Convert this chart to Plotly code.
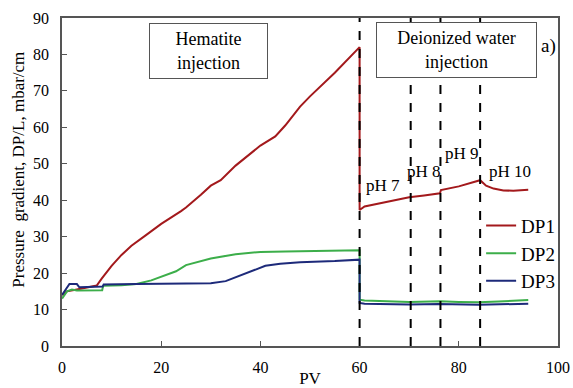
import plotly.graph_objects as go

# ---------------- data ----------------
pv_dp1 = [0, 1, 3, 5, 7, 8, 10, 12, 14, 17, 20, 24, 25, 28, 30, 32, 35, 40, 43, 45, 48, 50, 55, 60,
          60, 61, 64, 67, 70, 73, 76.2, 76.4, 80, 84.3, 85.5, 87, 89, 91, 94]
dp1 = [14, 15, 15.5, 16, 16.6, 18.5, 22, 25, 27.5, 30.5, 33.5, 37, 38, 41.5, 44, 45.5, 49.5, 55, 57.5, 60.5, 65.7, 68.5, 75, 82,
       37.3, 38.3, 39.1, 40, 40.8, 41.3, 41.9, 42.8, 43.8, 45.5, 44, 43.2, 42.7, 42.6, 42.9]

pv_dp2 = [0, 1, 2, 3, 8.1, 8.3, 12, 15, 18, 20, 23, 25, 27, 30, 35, 40, 45, 50, 60,
          60, 61, 70, 76.3, 80, 84, 88, 94]
dp2 = [13, 15, 15.5, 15.2, 15.3, 16.5, 16.7, 17, 18, 19, 20.5, 22.2, 23, 24, 25.2, 25.8, 25.9, 26, 26.3,
       12.7, 12.5, 12.1, 12.3, 12.1, 12.0, 12.2, 12.6]

pv_dp3 = [0, 1, 1.5, 3, 3.5, 8.2, 8.4, 15, 25, 30, 33, 35, 38, 41, 44, 48, 55, 60,
          60, 61, 70, 76, 84, 90, 94]
dp3 = [14, 16, 17, 17, 16.1, 16.3, 16.9, 17, 17, 17.2, 17.8, 18.8, 20.5, 22, 22.6, 23, 23.3, 23.7,
       11.8, 11.6, 11.4, 11.5, 11.3, 11.4, 11.6]

series_names = ["DP1", "DP2", "DP3"]
series_colors = ["#a3191c", "#3cae4a", "#1d2a7a"]

x_ticks = [0, 20, 40, 60, 80, 100]
y_ticks = [0, 10, 20, 30, 40, 50, 60, 70, 80, 90]

boundaries = [60, 70.3, 76.3, 84.3]
ph_labels = ["pH 7", "pH 8", "pH 9", "pH 10"]
ph_label_x = [64.7, 73.0, 80.6, 90.3]
ph_label_y = [44.1, 47.8, 52.9, 47.8]

FONT = "Liberation Serif, Times New Roman, serif"

fig = go.Figure()
for xs, ys, name, col in zip([pv_dp1, pv_dp2, pv_dp3], [dp1, dp2, dp3], series_names, series_colors):
    fig.add_trace(go.Scatter(x=xs, y=ys, mode="lines", name=name,
                             line=dict(color=col, width=2)))

shapes = []
for b in boundaries:
    shapes.append(dict(type="line", xref="x", yref="y", x0=b, x1=b, y0=0, y1=90,
                       line=dict(color="black", width=2, dash="dash"), layer="above"))

annotations = [
    dict(x=29.5, y=81.0, xref="x", yref="y", text="Hematite<br>injection", showarrow=False,
         font=dict(family=FONT, size=18, color="black"), bgcolor="white",
         bordercolor="#555", borderwidth=1, width=115, height=52, align="center"),
    dict(x=79.6, y=81.1, xref="x", yref="y", text="Deionized water<br>injection", showarrow=False,
         font=dict(family=FONT, size=18, color="black"), bgcolor="white",
         bordercolor="#555", borderwidth=1, width=157, height=52, align="center"),
    dict(x=1.0, y=0.955, xref="paper", yref="paper", text="a)", showarrow=False,
         xanchor="right", font=dict(family=FONT, size=19, color="black")),
    dict(x=-0.087, y=0.537, xref="paper", yref="paper", text="Pressure  gradient, DP/L, mbar/cm",
         showarrow=False, textangle=-90, xanchor="center", yanchor="middle",
         font=dict(family=FONT, size=17, color="black")),
]
for t, px, py in zip(ph_labels, ph_label_x, ph_label_y):
    annotations.append(dict(x=px, y=py, xref="x", yref="y", text=t, showarrow=False,
                            font=dict(family=FONT, size=17, color="black")))

fig.update_layout(
    width=573, height=388,
    margin=dict(l=62, r=15, t=18, b=42, autoexpand=False),
    paper_bgcolor="white", plot_bgcolor="white",
    font=dict(family=FONT, size=16, color="black"),
    shapes=shapes, annotations=annotations,
    legend=dict(x=0.845, y=0.425, xanchor="left", yanchor="top",
                font=dict(family=FONT, size=19), bgcolor="rgba(0,0,0,0)",
                tracegroupgap=0, itemwidth=30),
    showlegend=True,
)
fig.update_xaxes(range=[0, 100], tickvals=x_ticks, ticks="inside", ticklen=5,
                 tickcolor="#555", showline=True, linecolor="#555", linewidth=1.5,
                 mirror=True, showgrid=False, zeroline=False, automargin=False,
                 title=dict(text="PV", font=dict(family=FONT, size=17), standoff=0),
                 tickfont=dict(family=FONT, size=16), ticklabelstandoff=6)
fig.update_yaxes(range=[0, 90], tickvals=y_ticks, ticks="inside", ticklen=5,
                 tickcolor="#555", showline=True, linecolor="#555", linewidth=1.5,
                 mirror=True, showgrid=False, zeroline=False, automargin=False,
                 tickfont=dict(family=FONT, size=16), ticklabelstandoff=8)

fig.write_html("out.html", config={"displayModeBar": False},
               post_script="document.body.style.margin='0';document.body.style.overflow='hidden';")
